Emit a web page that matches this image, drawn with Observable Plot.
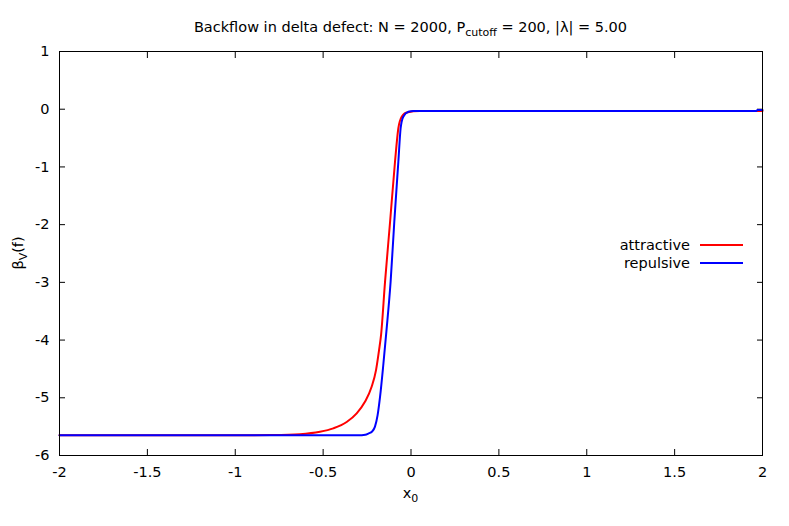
<!DOCTYPE html>
<html><head><meta charset="utf-8">
<script src="https://cdn.jsdelivr.net/npm/d3@7"></script>
<script src="https://cdn.jsdelivr.net/npm/@observablehq/plot@0.6"></script>
<style>body{margin:0;background:#fff} svg{display:block}</style>
</head><body><div id="chart"></div>
<script>
const xTicks = [-2, -1.5, -1, -0.5, 0, 0.5, 1, 1.5, 2];
const yTicks = [-6, -5, -4, -3, -2, -1, 0, 1];
const seriesNames = ["attractive", "repulsive"];
const seriesColors = ["#ff0000", "#0000ff"];

const attractiveX = [-2, -1.0, -0.8, -0.632, -0.518, -0.442, -0.366, -0.309, -0.262, -0.224, -0.199, -0.182, -0.170, -0.148, -0.119, -0.091, -0.072, -0.053, -0.024, 0.051, 0.3, 2];
const attractiveY = [-5.65, -5.65, -5.645, -5.63, -5.59, -5.53, -5.42, -5.27, -5.07, -4.81, -4.52, -4.18, -3.90, -3.00, -1.95, -0.91, -0.33, -0.13, -0.056, -0.033, -0.03, -0.03];

const repulsiveX = [-2, -0.30, -0.26, -0.243, -0.220, -0.205, -0.190, -0.176, -0.157, -0.140, -0.116, -0.095, -0.072, -0.059, -0.044, -0.015, 0.013, 0.3, 1.965, 1.972, 2];
const repulsiveY = [-5.65, -5.65, -5.64, -5.62, -5.58, -5.50, -5.30, -4.98, -4.41, -3.85, -2.99, -1.95, -0.91, -0.33, -0.13, -0.045, -0.03, -0.03, -0.03, -0.012, -0.012];

const rows = [
  ...attractiveX.map((x, i) => ({series: "attractive", x, y: attractiveY[i]})),
  ...repulsiveX.map((x, i) => ({series: "repulsive", x, y: repulsiveY[i]}))
];

const W = 789, H = 526, mL = 59, mR = 27, mT = 51, mB = 71;
const FS = 14.5, SUB = 11;
const fmt = d => String(d);

const svg = Plot.plot({
  width: W, height: H,
  marginLeft: mL, marginRight: mR, marginTop: mT, marginBottom: mB,
  style: {fontFamily: "DejaVu Sans", fontSize: FS + "px", background: "#fff", color: "#000"},
  x: {domain: [-2, 2]},
  y: {domain: [-6, 1]},
  color: {domain: seriesNames, range: seriesColors},
  marks: [
    Plot.axisX(xTicks, {anchor: "bottom", tickSize: -6, tickPadding: 17, label: null, tickFormat: fmt}),
    Plot.axisX(xTicks, {anchor: "top", tickSize: -6, label: null, tickFormat: () => ""}),
    Plot.axisY(yTicks, {anchor: "left", tickSize: -6, tickPadding: 16, label: null, tickFormat: fmt}),
    Plot.axisY(yTicks, {anchor: "right", tickSize: -6, label: null, tickFormat: () => ""}),
    Plot.line(rows, {x: "x", y: "y", z: "series", stroke: "series", strokeWidth: 2, curve: "monotone-x"}),
    Plot.frame({stroke: "#000", strokeWidth: 1})
  ]
});

document.getElementById("chart").appendChild(svg);
const s = d3.select(svg);
const cx = mL + (W - mL - mR) / 2;
const cy = mT + (H - mT - mB) / 2;
const font = "DejaVu Sans";

// Title
const t = s.append("text").attr("x", cx).attr("y", 32).attr("text-anchor", "middle")
  .attr("font-family", font).attr("font-size", FS).attr("fill", "#000");
t.append("tspan").text("Backflow in delta defect: N = 2000, P");
t.append("tspan").attr("dy", 4).attr("font-size", SUB).text("cutoff");
t.append("tspan").attr("dy", -4).text(" = 200, |λ| = 5.00");

// X label
const xl = s.append("text").attr("x", cx).attr("y", 498).attr("text-anchor", "middle")
  .attr("font-family", font).attr("font-size", FS).attr("fill", "#000");
xl.append("tspan").text("x");
xl.append("tspan").attr("dy", 4).attr("font-size", SUB).text("0");

// Y label
const yl = s.append("text").attr("transform", `translate(23,${cy}) rotate(-90)`).attr("text-anchor", "middle")
  .attr("font-family", font).attr("font-size", FS).attr("fill", "#000");
yl.append("tspan").text("β");
yl.append("tspan").attr("dy", 4).attr("font-size", SUB).text("V");
yl.append("tspan").attr("dy", -4).text("(f)");

// Legend
seriesNames.forEach((name, i) => {
  const ly = 245 + i * 18;
  s.append("text").attr("x", 690).attr("y", ly).attr("dy", "0.35em").attr("text-anchor", "end")
    .attr("font-family", font).attr("font-size", FS).attr("fill", "#000").text(name);
  s.append("line").attr("x1", 700).attr("x2", 743).attr("y1", ly).attr("y2", ly)
    .attr("stroke", seriesColors[i]).attr("stroke-width", 2);
});
</script>
</body></html>
